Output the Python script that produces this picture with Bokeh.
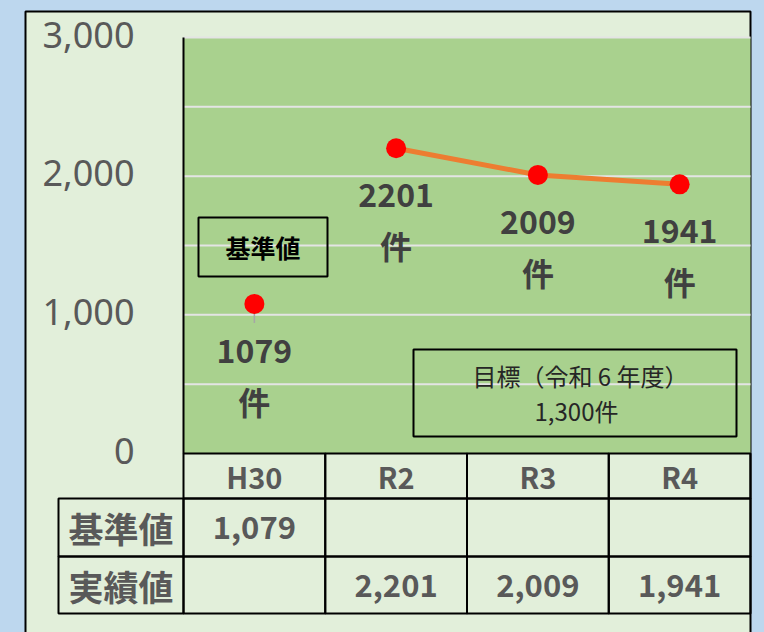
from bokeh.plotting import figure
from bokeh.models import Range1d
from bokeh.core.properties import value
from bokeh.embed import file_html
from bokeh.resources import INLINE

# ---------------- data ----------------
categories = ["H30", "R2", "R3", "R4"]
baseline_values = [1079, None, None, None]          # 基準値
actual_values = [None, 2201, 2009, 1941]            # 実績値
y_ticks = [0, 1000, 2000, 3000]
y_tick_labels = ["0", "1,000", "2,000", "3,000"]
grid_values = [500, 1000, 1500, 2000, 2500, 3000]
row_labels = ["基準値", "実績値"]
table_baseline = ["1,079", "", "", ""]
table_actual = ["", "2,201", "2,009", "1,941"]
unit = "件"
baseline_box_label = "基準値"
target_lines = ["目標（令和 6 年度）", "1,300件"]
y_max = 3000

# ---------------- layout helpers (screen px -> data) ----------------
W, H = 764, 632
OX, OY = 0, 0                      # Bokeh's page template removes the body margin
COL_PX = (750 - 183) / len(categories)
Y_PX = (453 - 37) / y_max


def ux(xs):
    return (xs - 183) / COL_PX


def vy(ys):
    return (453 - ys) / Y_PX


BLUE = "#BDD7EE"
PANEL = "#E2EFDA"
PLOT_GREEN = "#A9D18E"
GRID = "#E4E4E4"
LABEL_GRAY = "#595959"
DARK = "#404040"

p = figure(width=W, height=H, output_backend="svg", toolbar_location=None,
           x_range=Range1d(ux(OX), ux(OX + W)), y_range=Range1d(vy(OY + H), vy(OY)),
           x_axis_location=None, y_axis_location=None,
           min_border=0, min_border_left=0, min_border_right=0,
           min_border_top=0, min_border_bottom=0)
p.grid.visible = False
p.outline_line_color = None
p.background_fill_color = BLUE
p.border_fill_color = BLUE

n = len(categories)
xc = [i + 0.5 for i in range(n)]

# panel
p.quad(left=[ux(25)], right=[n], top=[vy(11)], bottom=[vy(700)],
       fill_color=PANEL, line_color="black", line_width=2)
# plot area
p.quad(left=[0], right=[n], top=[y_max], bottom=[0],
       fill_color=PLOT_GREEN, line_color=None)
# gridlines
p.segment(x0=[0] * len(grid_values), x1=[n] * len(grid_values),
          y0=grid_values, y1=grid_values, line_color=GRID, line_width=2)
# y axis line
p.segment(x0=[0], x1=[0], y0=[0], y1=[y_max], line_color="black", line_width=2)

# y tick labels
p.text(x=[ux(134)] * len(y_ticks), y=y_ticks, text=y_tick_labels,
       text_align="right", text_baseline="middle", y_offset=-3,
       text_font=value("Noto Sans"), text_font_size="36px", text_color=LABEL_GRAY)

# ---------------- table ----------------
r0, r1, r2, r3 = 0, vy(498), vy(556), vy(613)
left_tab = ux(58)
# header cells
p.quad(left=list(range(n)), right=[i + 1 for i in range(n)],
       top=[r0] * n, bottom=[r1] * n, fill_alpha=0, line_color="black", line_width=2)
# body cells
for top, bot in ((r1, r2), (r2, r3)):
    p.quad(left=[left_tab] + list(range(n)), right=[0] + [i + 1 for i in range(n)],
           top=[top] * (n + 1), bottom=[bot] * (n + 1),
           fill_alpha=0, line_color="black", line_width=2)

tab_font = value("Noto Sans CJK JP")
p.text(x=xc, y=[(r0 + r1) / 2] * n, text=categories, text_align="center",
       text_baseline="middle", text_font=tab_font, text_font_size="29px",
       text_font_style="bold", text_color=LABEL_GRAY)
p.text(x=[left_tab / 2] * 2, y=[(r1 + r2) / 2, (r2 + r3) / 2], text=row_labels,
       text_align="center", text_baseline="middle", text_font=tab_font,
       text_font_size="35px", text_font_style="bold", text_color=LABEL_GRAY)
p.text(x=xc, y=[(r1 + r2) / 2] * n, text=table_baseline, text_align="center",
       text_baseline="middle", text_font=tab_font, text_font_size="31px",
       text_font_style="bold", text_color=LABEL_GRAY)
p.text(x=xc, y=[(r2 + r3) / 2] * n, text=table_actual, text_align="center",
       text_baseline="middle", text_font=tab_font, text_font_size="31px",
       text_font_style="bold", text_color=LABEL_GRAY)

# ---------------- series ----------------
nan = float("nan")
base_y = [nan if v is None else v for v in baseline_values]
act_y = [nan if v is None else v for v in actual_values]

# leader line for baseline label
bx = [xc[i] for i, v in enumerate(baseline_values) if v is not None]
bv = [v for v in baseline_values if v is not None]
p.segment(x0=bx, x1=bx, y0=bv, y1=[v - 19 / Y_PX for v in bv],
          line_color="#A6A6A6", line_width=1.5)

p.line(x=xc, y=act_y, line_color="#ED7D31", line_width=5)
p.scatter(x=xc, y=base_y, size=20, fill_color="#FF0000", line_color=None)
p.scatter(x=xc, y=act_y, size=20, fill_color="#FF0000", line_color=None)

# data labels
lab_x, lab_y, lab_t = [], [], []
for i in range(n):
    v = baseline_values[i] if baseline_values[i] is not None else actual_values[i]
    lab_x.append(xc[i])
    lab_y.append(v)
    lab_t.append(str(v))
p.text(x=lab_x, y=lab_y, text=lab_t, y_offset=47, text_align="center",
       text_baseline="middle", text_font=tab_font, text_font_size="32px",
       text_font_style="bold", text_color=DARK)
p.text(x=lab_x, y=lab_y, text=[unit] * n, y_offset=97, text_align="center",
       text_baseline="middle", text_font=tab_font, text_font_size="32px",
       text_font_style="bold", text_color=DARK)

# 基準値 box
p.quad(left=[ux(198)], right=[ux(327)], top=[vy(217)], bottom=[vy(276)],
       fill_alpha=0, line_color="black", line_width=2)
p.text(x=[(ux(198) + ux(327)) / 2], y=[(vy(217) + vy(276)) / 2], text=[baseline_box_label],
       text_align="center", text_baseline="middle", text_font=tab_font,
       text_font_size="25px", text_font_style="bold", text_color="black")

# target box
p.quad(left=[ux(413)], right=[ux(736)], top=[vy(349)], bottom=[vy(436)],
       fill_alpha=0, line_color="black", line_width=2)
p.text(x=[ux(580), ux(576)], y=[vy(375), vy(410)], text=target_lines,
       text_align="center", text_baseline="middle", text_font=tab_font,
       text_font_size="24px", text_color="#262626")

html = file_html(p, INLINE)
html = html.replace("</head>", "<style>body{background:#BDD7EE;}</style></head>", 1)
open("out.html", "w").write(html)
